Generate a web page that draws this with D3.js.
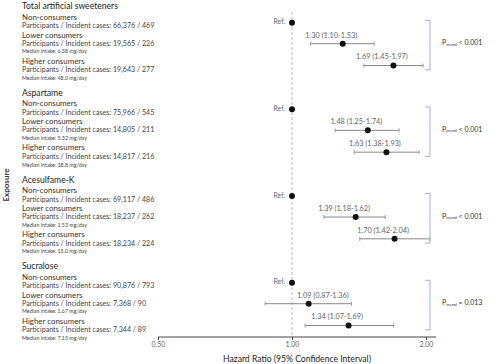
<!DOCTYPE html>
<html><head><meta charset="utf-8">
<script src="https://cdn.jsdelivr.net/npm/d3@7"></script>
<style>body{margin:0;background:#fff}svg{display:block}text{font-family:Lato,"Open Sans",sans-serif}</style>
</head><body><svg id="c" width="500" height="364"></svg>
<script>
const groups = ["Total artificial sweeteners","Aspartame","Acesulfame-K","Sucralose"];
const levels = ["Non-consumers","Lower consumers","Higher consumers"];
const participants = [
  ["66,376 / 469","19,565 / 226","19,643 / 277"],
  ["75,966 / 545","14,805 / 211","14,817 / 216"],
  ["69,117 / 486","18,237 / 262","18,234 / 224"],
  ["90,876 / 793","7,368 / 90","7,344 / 89"]];
const medians = [
  [null,"6.38 mg/day","48.0 mg/day"],
  [null,"5.32 mg/day","38.8 mg/day"],
  [null,"1.53 mg/day","15.0 mg/day"],
  [null,"1.67 mg/day","7.15 mg/day"]];
const hr = [[1,1.30,1.69],[1,1.48,1.63],[1,1.39,1.70],[1,1.09,1.34]];
const ciLow = [[null,1.10,1.45],[null,1.25,1.38],[null,1.18,1.42],[null,0.87,1.07]];
const ciHigh = [[null,1.53,1.97],[null,1.74,1.93],[null,1.62,2.04],[null,1.36,1.69]];
const pTrend = ["< 0.001","< 0.001","< 0.001","= 0.013"];
const tickValues = [0.5,1,2];
const tickLabels = ["0.50","1.00","2.00"];
const refValue = 1;

const svg = d3.select("#c");
const x = d3.scaleLog().domain([0.5,2]).range([158,426]);
const gy = d3.scaleLinear().domain([0,3]).range([7.3,267.3]);
const rowOff = [15.4,36.4,58.2];
const axisY = 337;

svg.append("text").attr("transform","translate(7,185) rotate(-90)")
  .attr("text-anchor","middle").attr("dominant-baseline","middle")
  .attr("font-size",8).attr("font-weight","bold").attr("fill","#333").text("Exposure");

svg.append("line").attr("x1",x(refValue)).attr("x2",x(refValue)).attr("y1",12).attr("y2",axisY)
  .attr("stroke","#b8b8e0").attr("stroke-width",1).attr("stroke-dasharray","3,2");

const tx = 22;
groups.forEach((g,i)=>{
  const t = gy(i);
  const lbl = (y,txt,size,fill)=>svg.append("text").attr("x",tx).attr("y",y)
    .attr("dominant-baseline","middle").attr("font-size",size).attr("fill",fill).text(txt);
  lbl(t,g,8.6,"#222");
  lbl(t+10.5,levels[0],7.9,"#333");
  lbl(t+19.4,"Participants / Incident cases: "+participants[i][0],7.1,"#444");
  lbl(t+28.4,levels[1],7.9,"#333");
  lbl(t+36.6,"Participants / Incident cases: "+participants[i][1],7.1,"#444");
  lbl(t+44.6,"Median intake: "+medians[i][1],5.3,"#444");
  lbl(t+54.4,levels[2],7.9,"#333");
  lbl(t+63.2,"Participants / Incident cases: "+participants[i][2],7.1,"#444");
  lbl(t+71.4,"Median intake: "+medians[i][2],5.3,"#444");

  hr[i].forEach((v,j)=>{
    const y = t+rowOff[j];
    if(ciLow[i][j]!=null){
      const x1=x(ciLow[i][j]), x2=x(ciHigh[i][j]);
      svg.append("line").attr("x1",x1).attr("x2",x2).attr("y1",y).attr("y2",y).attr("stroke","#888").attr("stroke-width",1);
      [x1,x2].forEach(xx=>svg.append("line").attr("x1",xx).attr("x2",xx).attr("y1",y-2).attr("y2",y+2).attr("stroke","#888").attr("stroke-width",0.8));
      const label = svg.append("text").attr("y",y-8).attr("dominant-baseline","middle")
        .attr("font-size",7.3).attr("fill","#666")
        .text(d3.format(".2f")(v)+" ("+d3.format(".2f")(ciLow[i][j])+"-"+d3.format(".2f")(ciHigh[i][j])+")");
      const w = label.node().getComputedTextLength();
      let start = x(v)-11.5-w/2;
      if(start < x(refValue)+4) start = x(refValue)+5;
      label.attr("x",start);
    } else {
      svg.append("text").attr("x",x(v)-7).attr("y",y).attr("text-anchor","end").attr("dominant-baseline","middle")
        .attr("font-size",6.8).attr("fill","#666").text("Ref.");
    }
    svg.append("circle").attr("cx",x(v)).attr("cy",y).attr("r",3).attr("fill","#111");
  });

  const b0=t+13, b1=t+62.5, bx=430;
  svg.append("path").attr("d",`M${bx-5},${b0}H${bx}V${b1}H${bx-5}`).attr("fill","none")
    .attr("stroke","#9fb3d0").attr("stroke-width",1);
  const pt = svg.append("text").attr("x",442).attr("y",t+36).attr("dominant-baseline","middle")
    .attr("font-size",7).attr("fill","#333");
  pt.append("tspan").text("P");
  pt.append("tspan").attr("font-size",4.5).attr("dy",1.5).text("trend");
  pt.append("tspan").attr("dy",-1.5).text(" "+pTrend[i]);
});

const axis = d3.axisBottom(x).tickValues(tickValues).tickFormat((d,k)=>tickLabels[k]).tickSize(3).tickSizeOuter(0);
const ga = svg.append("g").attr("transform",`translate(0,${axisY})`).call(axis);
ga.select(".domain").attr("d",`M${x.range()[0]},0H${x.range()[1]+10}`).attr("stroke","#444");
ga.selectAll(".tick line").attr("stroke","#444");
ga.selectAll(".tick text").attr("font-family","Lato,sans-serif").attr("font-size",7).attr("fill","#666").attr("dy","0.55em");

svg.append("text").attr("x",297).attr("y",359.5).attr("text-anchor","middle").attr("dominant-baseline","middle")
  .attr("font-size",8.6).attr("fill","#222").text("Hazard Ratio (95% Confidence Interval)");
</script></body></html>
